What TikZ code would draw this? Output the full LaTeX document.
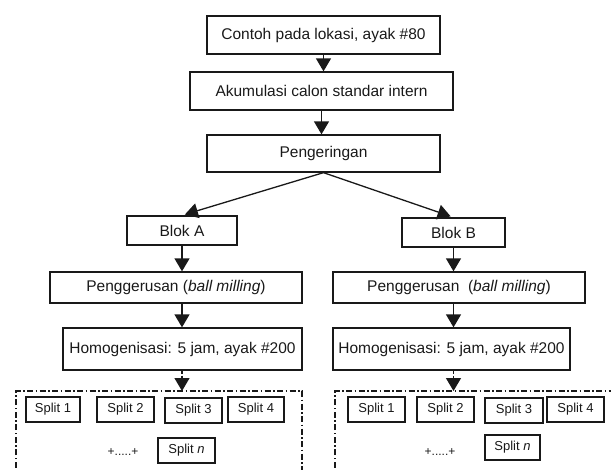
\documentclass[tikz,border=0pt]{standalone}
\usepackage{fontspec}
\setmainfont{Liberation Sans}
\usetikzlibrary{arrows.meta}

\tikzset{
  box/.style={draw=black!90, text=black!90, line width=1.3pt, inner sep=0pt,
    font=\fontsize{15.5}{18}\selectfont},
  splitbox/.style={draw=black!90, text=black!90, line width=1.3pt, inner sep=0pt,
    minimum height=25pt, font=\fontsize{13}{15}\selectfont},
  flow/.style={draw=black!90, line width=1.3pt,
    -{Triangle[width=15pt,length=13pt]}},
  area/.style={draw=black!90, line width=1.3pt,
    dash pattern=on 6pt off 2.5pt on 1.5pt off 2.5pt},
}

\begin{document}
\begin{tikzpicture}[x=1pt, y=-1pt]
    \useasboundingbox (0,0) rectangle (611,469);
    \clip (0,0) rectangle (611,469);

    % main chain
    \node[box, minimum width=233pt, minimum height=38pt] (top) at (323.5,35)
      {Contoh pada lokasi, ayak \#80};
    \node[box, minimum width=263pt, minimum height=38pt] (accum) at (321.5,91)
      {Akumulasi calon standar intern};
    \node[box, minimum width=233pt, minimum height=37pt] (dry) at (323.5,153.5)
      {Pengeringan};

    % left branch
    \node[box, minimum width=110pt, minimum height=29pt] (blokA) at (182,230.5)
      {Blok A};
    \node[box, minimum width=252pt, minimum height=31pt] (millA) at (176,287.5)
      {Penggerusan (\textit{ball milling})};
    \node[box, minimum width=239pt, minimum height=42pt] (homA) at (182.5,349)
      {Homogenisasi: 5 jam, ayak \#200};

    % right branch
    \node[box, minimum width=103pt, minimum height=29pt] (blokB) at (453.5,232.5)
      {Blok B};
    \node[box, minimum width=252pt, minimum height=31pt] (millB) at (459,287.5)
      {Penggerusan~ (\textit{ball milling})};
    \node[box, minimum width=237pt, minimum height=42pt] (homB) at (451.5,349)
      {Homogenisasi: 5 jam, ayak \#200};

    % split areas
    \coordinate (areaA) at (16,391);
    \coordinate (areaB) at (335,391);
    \draw[area]
      (16,480) -- (areaA) -- (302,391) -- (302,480)
    ;
    \draw[area]
      (335,480) -- (areaB) -- (620,391)
    ;

    \node[splitbox, minimum width=54pt] (splitA1) at (53,409.5) {Split 1};
    \node[splitbox, minimum width=57pt] (splitA2) at (125.5,409.5) {Split 2};
    \node[splitbox, minimum width=57pt] (splitA3) at (193.5,410.5) {Split 3};
    \node[splitbox, minimum width=56pt] (splitA4) at (256,409.5) {Split 4};
    \node[splitbox, minimum width=57pt] (splitAn) at (186.5,450.5) {Split \textit{n}};
    \node[text=black!90, font=\fontsize{12}{14}\selectfont] (plusA) at (123,452) {+.....+};

    \node[splitbox, minimum width=57pt] (splitB1) at (376.5,409.5) {Split 1};
    \node[splitbox, minimum width=57pt] (splitB2) at (445.5,409.5) {Split 2};
    \node[splitbox, minimum width=58pt] (splitB3) at (514,410.5) {Split 3};
    \node[splitbox, minimum width=57pt] (splitB4) at (575.5,409.5) {Split 4};
    \node[splitbox, minimum width=55pt] (splitBn) at (512.5,447.5) {Split \textit{n}};
    \node[text=black!90, font=\fontsize{12}{14}\selectfont] (plusB) at (440,452) {+.....+};

    % connectors
    \draw[flow]
      (top.south) -- (top.south |- accum.north)
    ;
    \draw[flow]
      (accum.south) -- (accum.south |- dry.north)
    ;
    \draw[flow, shorten >=3pt]
      (dry.south) -- (blokA.north)
    ;
    \draw[flow, shorten >=3pt]
      (dry.south) -- (blokB.north)
    ;
    \draw[flow]
      (blokA.south) -- (blokA.south |- millA.north)
    ;
    \draw[flow]
      (blokA.south |- millA.south) -- (blokA.south |- homA.north)
    ;
    \draw[flow, densely dashed]
      (blokA.south |- homA.south) -- (blokA.south |- areaA)
    ;
    \draw[flow]
      (blokB.south) -- (blokB.south |- millB.north)
    ;
    \draw[flow]
      (blokB.south |- millB.south) -- (blokB.south |- homB.north)
    ;
    \draw[flow, densely dashed]
      (blokB.south |- homB.south) -- (blokB.south |- areaB)
    ;
\end{tikzpicture}
\end{document}
